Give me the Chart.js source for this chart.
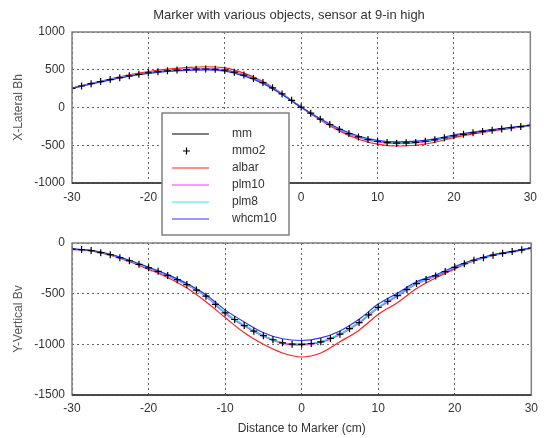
<!DOCTYPE html>
<html>
<head>
<meta charset="utf-8">
<script src="https://cdn.jsdelivr.net/npm/chart.js@4.4.0/dist/chart.umd.min.js"></script>
<style>
html, body { margin: 0; padding: 0; background: #fff; }
#wrap { position: relative; width: 544px; height: 438px; }
#wrap canvas { position: absolute; left: 0; top: 0; }
</style>
</head>
<body>
<div id="wrap">
<canvas id="plotBottom" width="544" height="438" style="width:544px;height:438px"></canvas>
<canvas id="plotTop" width="544" height="240" style="width:544px;height:240px"></canvas>
</div>
<script>
// x positions (cm) for the line series and for the mmo2 markers
var xLine = [-30, -27.5, -25, -22.5, -20, -17.5, -15, -12.5, -10, -7.5, -5, -2.5, 0,
    2.5, 5, 7.5, 10, 12.5, 15, 17.5, 20, 22.5, 25, 27.5, 30];
var xMarker = [-30, -28.75, -27.5, -26.25, -25, -23.75, -22.5, -21.25, -20, -18.75, -17.5, -16.25,
    -15, -13.75, -12.5, -11.25, -10, -8.75, -7.5, -6.25, -5, -3.75, -2.5, -1.25, 0,
    1.25, 2.5, 3.75, 5, 6.25, 7.5, 8.75, 10, 11.25, 12.5, 13.75, 15, 16.25, 17.5, 18.75,
    20, 21.25, 22.5, 23.75, 25, 26.25, 27.5, 28.75, 30];

var seriesNames = ["mm", "mmo2", "albar", "plm10", "plm8", "whcm10"];
var seriesColors = ["#000000", "#000000", "#ff2020", "#ff30ff", "#20f0f0", "#3030ff"];

var xTicks = [-30, -20, -10, 0, 10, 20, 30];
var topYTicks = [-1000, -500, 0, 500, 1000];
var bottomYTicks = [-1500, -1000, -500, 0];

// X-Lateral Bh
var mmTop = [255, 315, 370, 420, 460, 487, 503, 510, 495, 430, 330, 180, 5,
    -155, -290, -390, -450, -472, -462, -428, -375, -335, -300, -268, -238];
var mmo2Top = [255, 285, 315, 343, 370, 395, 420, 440, 460, 475, 487, 496, 503, 508, 510, 505, 495,
    468, 430, 385, 330, 260, 180, 95, 5, -75, -155, -225, -290, -345, -390, -425, -450, -465,
    -472, -468, -462, -447, -428, -402, -375, -355, -335, -317, -300, -284, -268, -253, -238];
var albarTop = [258, 320, 378, 432, 475, 507, 528, 540, 525, 455, 345, 185, 0,
    -165, -310, -420, -485, -510, -500, -460, -400, -350, -310, -275, -242];
var plm10Top = [255, 316, 372, 422, 463, 490, 507, 515, 500, 433, 332, 180, 5,
    -157, -294, -395, -457, -478, -468, -432, -378, -337, -302, -269, -239];
var plm8Top = [254, 314, 369, 419, 459, 485, 501, 507, 492, 427, 327, 178, 5,
    -153, -287, -386, -445, -466, -456, -423, -371, -332, -298, -266, -237];
var whcm10Top = [252, 311, 365, 414, 452, 478, 493, 498, 482, 418, 320, 173, 3,
    -150, -282, -378, -435, -455, -446, -414, -364, -327, -294, -263, -234];

// Y-Vertical Bv
var mmBottom = [-60, -75, -115, -175, -245, -320, -410, -525, -690, -815, -915, -985, -1000,
    -975, -900, -785, -635, -520, -400, -325, -240, -170, -120, -85, -50];
var mmo2Bottom = [-60, -65, -75, -95, -115, -145, -175, -210, -245, -280, -320, -362, -410, -465,
    -525, -605, -690, -755, -815, -870, -915, -955, -985, -998, -1000, -992, -975, -942, -900,
    -845, -785, -710, -635, -575, -520, -460, -400, -360, -325, -282, -240, -205, -170, -145,
    -120, -102, -85, -67, -50];
var albarBottom = [-62, -78, -120, -185, -260, -340, -445, -580, -735, -885, -1000, -1085, -1125,
    -1085, -975, -860, -705, -590, -450, -345, -255, -178, -125, -88, -52];
var plm10Bottom = [-60, -76, -117, -178, -249, -325, -415, -530, -695, -820, -922, -990, -1008,
    -982, -906, -792, -642, -525, -405, -328, -243, -172, -121, -86, -51];
var plm8Bottom = [-59, -75, -115, -175, -245, -320, -410, -523, -685, -810, -915, -982, -998,
    -972, -898, -782, -632, -515, -398, -322, -239, -169, -119, -84, -50];
var whcm10Bottom = [-58, -73, -112, -170, -238, -312, -400, -510, -660, -780, -885, -945, -962,
    -937, -868, -753, -603, -495, -383, -315, -232, -165, -116, -82, -48];

var FONT = "'Liberation Sans', Arial, sans-serif";

function pts(xs, ys) {
    return xs.map((x, i) => {
        return {x: x, y: ys[i]}
    });
}

function makeDatasets(mm, mmo2, albar, plm10, plm8, whcm10) {
    var lines = [mm, null, albar, plm10, plm8, whcm10];
    var orders = [6, 1, 5, 4, 3, 2];  // later matlab plots end up on top
    return seriesNames.map((name, i) => {
        if (i == 1) {
            return {
                label: name,
                data: pts(xMarker, mmo2),
                showLine: false,
                pointStyle: "cross",
                pointRadius: 3.5,
                borderColor: seriesColors[i],
                borderWidth: 1.2,
                order: orders[i],
            };
        }
        return {
            label: name,
            data: pts(xLine, lines[i]),
            borderColor: seriesColors[i],
            borderWidth: 1.2,
            pointRadius: 0,
            cubicInterpolationMode: "monotone",
            order: orders[i],
        };
    });
}

// matlab style box round the axes
var framePlugin = {
    id: "frame",
    afterDatasetsDraw(chart) {
        var a = chart.chartArea;
        var ctx = chart.ctx;
        ctx.save();
        ctx.strokeStyle = "#808080";
        ctx.lineWidth = 1.5;
        ctx.strokeRect(a.left, a.top, a.right - a.left, a.bottom - a.top);
        ctx.strokeStyle = "#303030";
        ctx.beginPath();
        ctx.moveTo(a.left, a.bottom);
        ctx.lineTo(a.right, a.bottom);
        ctx.stroke();
        ctx.restore();
    }
};

var titlePlugin = {
    id: "plotTitle",
    afterDraw(chart) {
        var ctx = chart.ctx;
        ctx.save();
        ctx.fillStyle = "#333";
        ctx.font = "13px " + FONT;
        ctx.textAlign = "center";
        ctx.textBaseline = "middle";
        ctx.fillText("Marker with various objects, sensor at 9-in high", 289, 15);
        ctx.restore();
    }
};

var legendPlugin = {
    id: "boxLegend",
    afterDraw(chart) {
        var ctx = chart.ctx;
        var bx = 162, by = 113, bw = 127, bh = 122;
        ctx.save();
        ctx.fillStyle = "#fff";
        ctx.fillRect(bx, by, bw, bh);
        ctx.strokeStyle = "#808080";
        ctx.lineWidth = 1.5;
        ctx.strokeRect(bx, by, bw, bh);
        ctx.font = "12px " + FONT;
        ctx.textBaseline = "middle";
        ctx.textAlign = "left";
        seriesNames.forEach((name, i) => {
            var y = 134 + i * 17;
            ctx.strokeStyle = seriesColors[i];
            ctx.lineWidth = 1.2;
            ctx.beginPath();
            if (i == 1) {
                ctx.moveTo(186.5, y - 3.5);
                ctx.lineTo(186.5, y + 3.5);
                ctx.moveTo(183, y);
                ctx.lineTo(190, y);
            } else {
                ctx.moveTo(172, y);
                ctx.lineTo(209, y);
            }
            ctx.stroke();
            ctx.fillStyle = "#333";
            ctx.fillText(name, 232, y);
        });
        ctx.restore();
    }
};

function makeScales(yMin, yMax, yTitle, xHeight, xPad, xTitle) {
    var tickFont = {family: FONT, size: 12};
    return {
        x: {
            type: "linear",
            min: -30,
            max: 30,
            afterBuildTicks: function(s) { s.ticks = xTicks.map(v => ({value: v})); },
            ticks: {
                font: tickFont,
                color: "#333",
                padding: xPad,
                maxRotation: 0,
                callback: v => String(v),
            },
            grid: { color: "#666", lineWidth: 1, drawTicks: false },
            border: { display: false, dash: [2, 3] },
            title: xTitle ? {
                display: true,
                text: xTitle,
                font: tickFont,
                color: "#333",
                padding: {top: 0, bottom: 2},
            } : {display: false},
            afterFit: function(s) { s.height = xHeight; },
        },
        y: {
            type: "linear",
            min: yMin,
            max: yMax,
            afterBuildTicks: function(s) {
                var list = yMin == -1000 ? topYTicks : bottomYTicks;
                s.ticks = list.map(v => ({value: v}));
            },
            ticks: {
                font: tickFont,
                color: "#333",
                padding: 7,
                callback: v => String(v),
            },
            grid: { color: "#666", lineWidth: 1, drawTicks: false },
            border: { display: false, dash: [2, 3] },
            title: {
                display: true,
                text: yTitle,
                font: tickFont,
                color: "#555",
                padding: {top: 11, bottom: 0},
            },
            afterFit: function(s) { s.width = 72; },
        }
    };
}

function baseOptions(scales, padding) {
    return {
        responsive: false,
        animation: false,
        events: [],
        layout: { padding: padding },
        scales: scales,
        plugins: {
            legend: { display: false },
            title: { display: false },
            tooltip: { enabled: false },
        }
    };
}

var chartTop, chartBottom;
window.addEventListener("load", function() {
    chartBottom = new Chart(document.getElementById("plotBottom"), {
        type: "line",
        data: { datasets: makeDatasets(mmBottom, mmo2Bottom, albarBottom, plm10Bottom, plm8Bottom, whcm10Bottom) },
        options: baseOptions(makeScales(-1500, 0, "Y-Vertical Bv", 43, 6, "Distance to Marker (cm)"),
            {top: 243, left: 0, right: 11, bottom: 0}),
        plugins: [framePlugin],
    });
    chartTop = new Chart(document.getElementById("plotTop"), {
        type: "line",
        data: { datasets: makeDatasets(mmTop, mmo2Top, albarTop, plm10Top, plm8Top, whcm10Top) },
        options: baseOptions(makeScales(-1000, 1000, "X-Lateral Bh", 57, 7, null),
            {top: 32, left: 0, right: 11, bottom: 0}),
        plugins: [framePlugin, titlePlugin, legendPlugin],
    });
});
</script>
</body>
</html>
